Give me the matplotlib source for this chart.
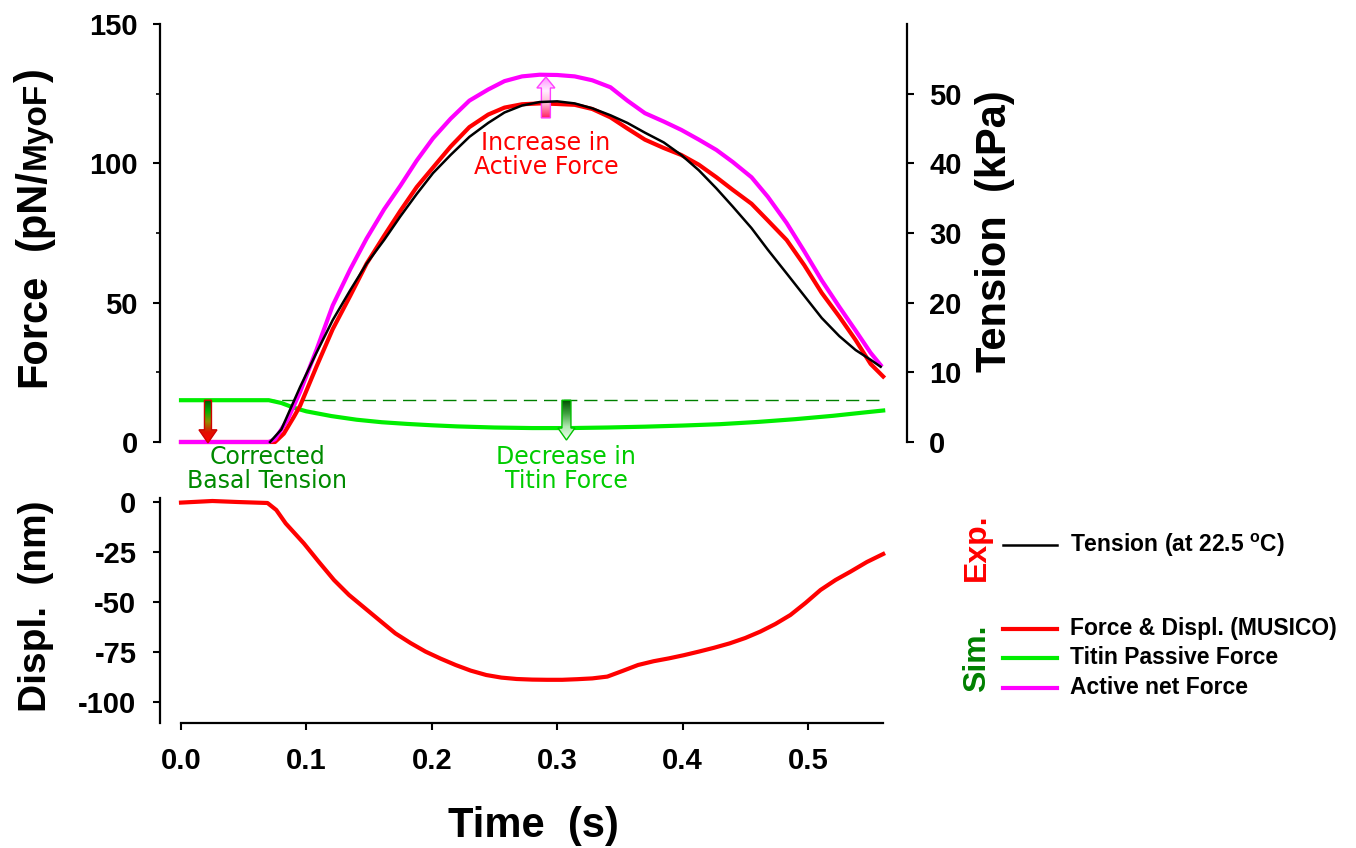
import numpy as np
import matplotlib
matplotlib.use('Agg')
import matplotlib.pyplot as plt
from matplotlib.patches import Polygon
from matplotlib.lines import Line2D
from matplotlib.colors import LinearSegmentedColormap
from matplotlib.ticker import MultipleLocator, FormatStrFormatter

# ---- data ----
# titin passive force (pN/MyoF)
t_titin = [0, 0.07, 0.08, 0.09, 0.10, 0.12, 0.14, 0.16, 0.18, 0.20, 0.22, 0.25, 0.28,
           0.31, 0.34, 0.37, 0.40, 0.43, 0.46, 0.49, 0.52, 0.545, 0.56]
f_titin = [15.0, 15.0, 14.0, 12.3, 11.0, 9.3, 8.0, 7.1, 6.5, 6.0, 5.6, 5.2, 5.0,
           5.0, 5.2, 5.5, 5.9, 6.4, 7.2, 8.2, 9.4, 10.6, 11.3]
basal_level = 15.0

# active net force (pN/MyoF)
t_active = [0, 0.07, 0.075, 0.085, 0.095, 0.108, 0.121, 0.135, 0.148, 0.162, 0.175, 0.188,
            0.201, 0.215, 0.23, 0.245, 0.258, 0.272, 0.286, 0.30, 0.314, 0.328, 0.3425,
            0.356, 0.37, 0.385, 0.399, 0.413, 0.427, 0.44, 0.455, 0.468, 0.483, 0.497,
            0.511, 0.525, 0.538, 0.55, 0.558]
f_active = [0, 0, 1, 8, 18, 33, 49, 62, 73, 83.5, 92, 101,
            109, 116, 122.5, 126.5, 129.5, 131.2, 131.8, 131.7, 131.2, 129.8, 127.3,
            122.5, 118, 115, 112, 108.5, 104.8, 100.5, 95, 88, 78.6, 68.5,
            58, 48.5, 40, 32, 27.6]

# MUSICO force (pN/MyoF)
t_musico = [0, 0.075, 0.082, 0.09, 0.095, 0.108, 0.121, 0.135, 0.148, 0.162, 0.175, 0.188,
            0.201, 0.215, 0.23, 0.245, 0.258, 0.272, 0.286, 0.30, 0.314, 0.328, 0.3425,
            0.356, 0.37, 0.385, 0.399, 0.413, 0.427, 0.44, 0.455, 0.468, 0.483, 0.497,
            0.511, 0.525, 0.538, 0.55, 0.56]
f_musico = [0, 0, 3, 9, 13, 27, 40.5, 52.5, 64, 74, 83, 91.5,
            98.5, 106, 113, 117.5, 120, 121.2, 121.5, 121.3, 121, 119.5, 116.5,
            112.5, 108.5, 105.5, 103, 99.5, 95, 90.5, 85.5, 79.5, 72.5, 63.5,
            53.5, 45, 36.6, 28, 23.5]

# experimental tension (kPa)
t_exp = [0.071, 0.08, 0.095, 0.108, 0.121, 0.135, 0.148, 0.162, 0.175, 0.188, 0.201,
         0.215, 0.23, 0.245, 0.258, 0.272, 0.286, 0.30, 0.314, 0.328, 0.3425, 0.356,
         0.37, 0.385, 0.399, 0.413, 0.427, 0.44, 0.455, 0.468, 0.483, 0.497, 0.511,
         0.525, 0.538, 0.55, 0.558]
tension = [0, 1.8, 7.9, 12.8, 17.5, 21.8, 25.6, 29.0, 32.4, 35.6, 38.6,
           41.2, 43.8, 45.8, 47.3, 48.3, 48.8, 48.9, 48.6, 47.9, 46.9, 45.8,
           44.4, 43.0, 41.2, 39.0, 36.4, 33.8, 30.7, 27.6, 24.2, 21.0, 17.8,
           15.2, 13.2, 11.8, 10.8]

# displacement (nm)
t_disp = [0, 0.025, 0.045, 0.069, 0.076, 0.0835, 0.098, 0.11, 0.122, 0.134, 0.1465, 0.159,
          0.171, 0.183, 0.195, 0.207, 0.219, 0.231, 0.2434, 0.2555, 0.2677, 0.28, 0.292,
          0.304, 0.316, 0.328, 0.34, 0.352, 0.3645, 0.377, 0.389, 0.401, 0.413, 0.425,
          0.4375, 0.45, 0.462, 0.474, 0.486, 0.498, 0.51, 0.522, 0.534, 0.547, 0.56]
disp = [-0.3, 0.5, 0, -0.5, -4, -10.7, -20.7, -30, -39, -46.5, -53, -59.5,
        -65.7, -70.5, -74.8, -78.3, -81.5, -84.3, -86.5, -87.8, -88.5, -88.8, -88.9,
        -88.9, -88.6, -88.2, -87.3, -84.5, -81.5, -79.6, -78.2, -76.6, -74.8, -72.9,
        -70.7, -68.0, -64.8, -61, -56.5, -50.5, -44, -39, -34.8, -30, -26]

RED = '#ff0000'
GREEN = '#00ee00'
MAGENTA = '#ff00ff'
DKGREEN = '#008a00'

plt.rcParams['font.family'] = ['Liberation Sans', 'DejaVu Sans']
plt.rcParams['font.weight'] = 'bold'
plt.rcParams['axes.unicode_minus'] = False
plt.rcParams['mathtext.fontset'] = 'custom'
plt.rcParams['mathtext.rm'] = 'Liberation Sans:bold'

W, H = 1356, 848
fig = plt.figure(figsize=(W / 100, H / 100), dpi=100)


def fx(px):
    return px / W


def fy(py):
    return 1 - py / H


XLIM = (-0.01675, 0.579)

ax = fig.add_axes([fx(160), fy(442), 747 / W, 418 / H])
ax2 = ax.twinx()
axd = fig.add_axes([fx(160), fy(723), 747 / W, 225 / H])

# top panel
ax.plot([0, 0.56], [basal_level, basal_level], color='#008000', lw=1.0, dashes=(9.5, 5))
ax.plot(t_titin, f_titin, color=GREEN, lw=3, clip_on=False)
ax.plot(t_musico, f_musico, color=RED, lw=3, clip_on=False)
ax.plot(t_active, f_active, color=MAGENTA, lw=3, clip_on=False)
ax2.plot(t_exp, tension, color='k', lw=1.8, clip_on=False)

ax.set_xlim(XLIM)
ax.set_ylim(0, 150)
ax2.set_ylim(0, 60)
for s in ['top', 'bottom', 'right']:
    ax.spines[s].set_visible(False)
for s in ['top', 'bottom', 'left']:
    ax2.spines[s].set_visible(False)
ax.spines['left'].set_linewidth(1.6)
ax2.spines['right'].set_linewidth(1.6)
ax.set_xticks([])
ax.yaxis.set_major_locator(MultipleLocator(50))
ax.yaxis.set_minor_locator(MultipleLocator(25))
ax.tick_params(axis='y', which='major', length=5, width=1.5, pad=11, labelsize=21)
ax.tick_params(axis='y', which='minor', length=3, width=1.2)
ax2.set_yticks([0, 10, 20, 30, 40, 50])
ax2.tick_params(axis='y', length=5, width=1.5, pad=11, labelsize=21)

# bottom panel
axd.plot(t_disp, disp, color=RED, lw=3)
axd.set_xlim(XLIM)
axd.set_ylim(-110.5, 2)
axd.spines['top'].set_visible(False)
axd.spines['right'].set_visible(False)
axd.spines['left'].set_linewidth(1.6)
axd.spines['bottom'].set_linewidth(1.6)
axd.spines['bottom'].set_bounds(0, 0.56)
axd.set_yticks([0, -25, -50, -75, -100])
axd.set_xticks([0, 0.1, 0.2, 0.3, 0.4, 0.5])
axd.xaxis.set_major_formatter(FormatStrFormatter('%.1f'))
axd.tick_params(axis='y', length=5, width=1.5, pad=12, labelsize=21)
axd.tick_params(axis='x', length=5, width=1.5, pad=12, labelsize=21)


# gradient arrows
def grad_arrow(a, x, y0, y1, cols, edge, shaft_px, head_px, headlen_px):
    bb = a.get_window_extent()
    xl = a.get_xlim()
    yl = a.get_ylim()
    sx = (xl[1] - xl[0]) / bb.width
    sy = (yl[1] - yl[0]) / bb.height
    sgn = 1 if y1 > y0 else -1
    hw = shaft_px / 2 * sx
    hh = head_px / 2 * sx
    hl = headlen_px * sy * sgn
    verts = [(x - hw, y0), (x + hw, y0), (x + hw, y1 - hl), (x + hh, y1 - hl),
             (x, y1), (x - hh, y1 - hl), (x - hw, y1 - hl)]
    poly = Polygon(verts, closed=True, fc='none', ec=edge, lw=1.0, zorder=7,
                   clip_on=False)
    a.add_patch(poly)
    grad = np.linspace(0, 1, 100).reshape(-1, 1)
    cmap = LinearSegmentedColormap.from_list('g', cols)
    im = a.imshow(grad, extent=[x - hh, x + hh, min(y0, y1), max(y0, y1)],
                  origin='lower', aspect='auto', cmap=cmap, zorder=6)
    im.set_clip_path(poly)
    im.set_clip_on(True)
    a.set_xlim(xl)
    a.set_ylim(yl)


grad_arrow(ax, 0.0215, 15.0, -0.3, ['#ff0000', '#e01000', '#909000', '#00b000', '#005a00'],
           '#d00000', 7, 18, 13)
grad_arrow(ax, 0.291, 116.3, 131.0, ['#ff2060', '#ffb0d0', '#fff0ff', '#ff90ff'],
           '#ff40ff', 9, 18, 11)
grad_arrow(ax, 0.3074, 15.0, 0.7, ['#f0fff0', '#b0e8b0', '#40a040', '#005000'],
           '#00c000', 9, 17, 12)

# annotations
ann = dict(fontsize=17, fontweight='normal', family='DejaVu Sans', ha='center',
           va='center', linespacing=1.0, clip_on=False)
ax.text(0.0686, -9.8, 'Corrected\nBasal Tension', color=DKGREEN, **ann)
ax.text(0.291, 103.0, 'Increase in\nActive Force', color=RED, **ann)
ax.text(0.307, -9.8, 'Decrease in\nTitin Force', color='#00cc00', **ann)

# axis labels
renderer = fig.canvas.get_renderer()


def vlabel(x, y_top, pieces):
    yb = H - y_top
    for s, size, gap in pieces:
        t = fig.text(x / W, yb / H, s, rotation=90, rotation_mode='anchor',
                     ha='left', va='baseline', fontsize=size, fontweight='bold')
        yb += t.get_window_extent(renderer).height + gap


vlabel(45, 387, [('Force', 30, 24), ('(pN/', 30, 0), ('MyoF', 24, 0), (')', 30, 0)])
fig.text(fx(995), fy(231), 'Tension  (kPa)', rotation=90, ha='center', va='center',
         fontsize=30, fontweight='bold')
fig.text(fx(36), fy(606), 'Displ.  (nm)', rotation=90, ha='center', va='center',
         fontsize=28, fontweight='bold')
fig.text(fx(533), fy(837), 'Time  (s)', ha='center', va='baseline',
         fontsize=30, fontweight='bold')

# legend
fig.text(fx(985), fy(547), 'Exp.', rotation=90, rotation_mode='anchor', ha='center',
         va='baseline', color=RED, fontsize=23, fontweight='bold')
fig.text(fx(985), fy(658), 'Sim.', rotation=90, rotation_mode='anchor', ha='center',
         va='baseline', color='#008000', fontsize=23, fontweight='bold')
entries = [(545, 'k', 1.8, r'Tension (at 22.5 $\mathregular{^o}$C)'),
           (629, RED, 3, 'Force & Displ. (MUSICO)'),
           (658, GREEN, 3, 'Titin Passive Force'),
           (688, MAGENTA, 3, 'Active net Force')]
for yy, c, lw, lab in entries:
    fig.add_artist(Line2D([fx(1003), fx(1057)], [fy(yy), fy(yy)], color=c, lw=lw,
                          transform=fig.transFigure))
    fig.text(fx(1070), fy(yy), lab, ha='left', va='center', fontsize=16.5,
             fontweight='bold')

fig.savefig('out.png', dpi=100)
